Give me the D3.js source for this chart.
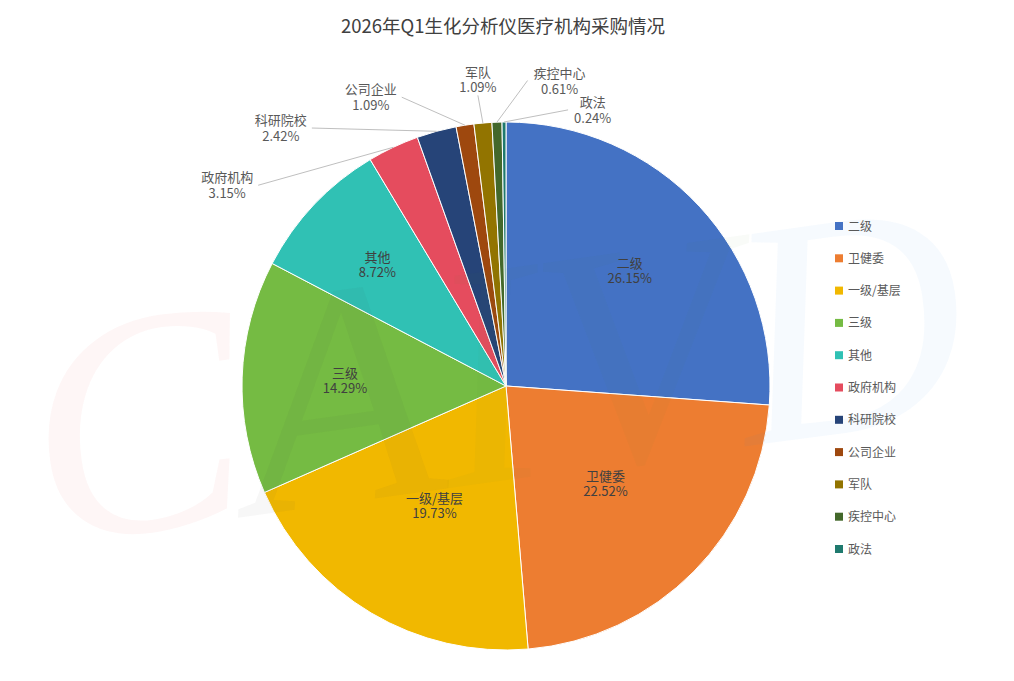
<!DOCTYPE html>
<html>
<head>
<meta charset="utf-8">
<script src="https://cdn.jsdelivr.net/npm/d3@7"></script>
<style>
    body { margin: 0; background: #fff; }
    svg { font-family: "Microsoft YaHei", "Noto Sans CJK SC", sans-serif; }
    .chart-title { font-size: 18.5px; fill: #404040; }
    .inner-label { font-size: 13px; fill: #404040; }
    .outer-label { font-size: 13px; fill: #595959; }
    .legend-text { font-size: 12px; fill: #595959; }
</style>
</head>
<body>
<div class="chart"></div>
<script>
// data
var categories = ["二级", "卫健委", "一级/基层", "三级", "其他", "政府机构", "科研院校", "公司企业", "军队", "疾控中心", "政法"];
var shares = [26.15, 22.52, 19.73, 14.29, 8.72, 3.15, 2.42, 1.09, 1.09, 0.61, 0.24];
var colors = ["#4472c4", "#ed7d31", "#f1b800", "#75bb43", "#30c1b4", "#e54c5e", "#264478", "#9e480e", "#927400", "#43682b", "#1f7a6e"];

// label layout (inner radius factor for big slices, leader label tweaks for small ones)
var innerLabelR = [0.64, 0.53, 0.53, 0.61, 0.67];
var outerLabels = [
    {shift: -25.7, rf: 1.208, side: "left"},
    {shift: -21.7, rf: 1.223, side: "left"},
    {shift: -10.9, rf: 1.163, side: "left"},
    {shift: -0.5, rf: 1.106, side: "top"},
    {shift: 6.0, rf: 1.16, side: "right"},
    {shift: 13.1, rf: 1.072, side: "right"}
];

var width = 1014, height = 681;
var cx = 506, cy = 386, radius = 264;

var svg = d3.select(".chart").append("svg")
    .attr("width", width)
    .attr("height", height);

svg.append("text")
    .attr("class", "chart-title")
    .attr("x", 503)
    .attr("y", 33)
    .attr("text-anchor", "middle")
    .text("2026年Q1生化分析仪医疗机构采购情况");

var data = categories.map((c, i) => ({name: c, value: shares[i], color: colors[i]}));

var pie = d3.pie().sort(null).value(d => d.value);
var arcs = pie(data);
var arc = d3.arc().innerRadius(0).outerRadius(radius);

var g = svg.append("g").attr("transform", `translate(${cx},${cy})`);

g.selectAll("path")
    .data(arcs)
    .enter()
    .append("path")
    .attr("d", arc)
    .attr("fill", d => d.data.color)
    .attr("stroke", "#fff")
    .attr("stroke-width", 1);

function polar(angle, r) {
    return [r * Math.sin(angle), -r * Math.cos(angle)];
}
function fmt(v) { return v.toFixed(2) + "%"; }

// faint watermark (drawn over the pie, under the labels)
var wm = svg.append("text")
    .attr("transform", "translate(44,545) rotate(-8)")
    .style("font-family", "'Liberation Serif', serif")
    .style("font-style", "italic")
    .style("font-size", "320px")
    .attr("pointer-events", "none");
[["C", "rgba(230,40,40,0.045)"], ["A", "rgba(60,60,60,0.045)"], ["I", "rgba(80,140,60,0.035)"],
 ["V", "rgba(80,140,60,0.035)"], ["D", "rgba(40,140,230,0.045)"]].forEach(function(l) {
    wm.append("tspan").attr("fill", l[1]).text(l[0]);
});

// inner labels
arcs.slice(0, 5).forEach(function(d, i) {
    var mid = (d.startAngle + d.endAngle) / 2;
    var p = polar(mid, radius * innerLabelR[i]);
    var t = g.append("text")
        .attr("class", "inner-label")
        .attr("text-anchor", "middle")
        .attr("x", p[0])
        .attr("y", p[1]);
    t.append("tspan").attr("x", p[0]).attr("dy", -3).text(d.data.name);
    t.append("tspan").attr("x", p[0]).attr("dy", 15).text(fmt(d.data.value));
});

// outer labels with leader lines
arcs.slice(5).forEach(function(d, i) {
    var lay = outerLabels[i];
    var mid = (d.startAngle + d.endAngle) / 2;
    var start = polar(mid, radius);
    var end = polar(mid + lay.shift * Math.PI / 180, radius * lay.rf);

    g.append("line")
        .attr("x1", start[0]).attr("y1", start[1])
        .attr("x2", end[0]).attr("y2", end[1])
        .attr("stroke", "#bfbfbf")
        .attr("stroke-width", 1);

    var lbl = g.append("g");
    var n = lbl.append("text").attr("class", "outer-label").attr("text-anchor", "middle").text(d.data.name);
    var p = lbl.append("text").attr("class", "outer-label").attr("text-anchor", "middle").text(fmt(d.data.value));
    var w = Math.max(n.node().getComputedTextLength(), p.node().getComputedTextLength());

    var x, y1, y2;
    if (lay.side == "left") {
        x = end[0] - 5 - w / 2; y1 = end[1] - 3; y2 = end[1] + 13;
    } else if (lay.side == "right") {
        x = end[0] + 6 + w / 2; y1 = end[1] - 3; y2 = end[1] + 13;
    } else {
        x = end[0]; y1 = end[1] - 18; y2 = end[1] - 3;
    }
    n.attr("x", x).attr("y", y1);
    p.attr("x", x).attr("y", y2);
});

// legend
var legend = svg.append("g").attr("transform", "translate(835,226)");
var rows = legend.selectAll("g")
    .data(data)
    .enter()
    .append("g")
    .attr("transform", (d, i) => `translate(0, ${i * 32.3})`);
rows.append("rect")
    .attr("x", 0).attr("y", -4)
    .attr("width", 8).attr("height", 8)
    .attr("fill", d => d.color);
rows.append("text")
    .attr("class", "legend-text")
    .attr("x", 13)
    .attr("y", 4.5)
    .text(d => d.name);
</script>
</body>
</html>
